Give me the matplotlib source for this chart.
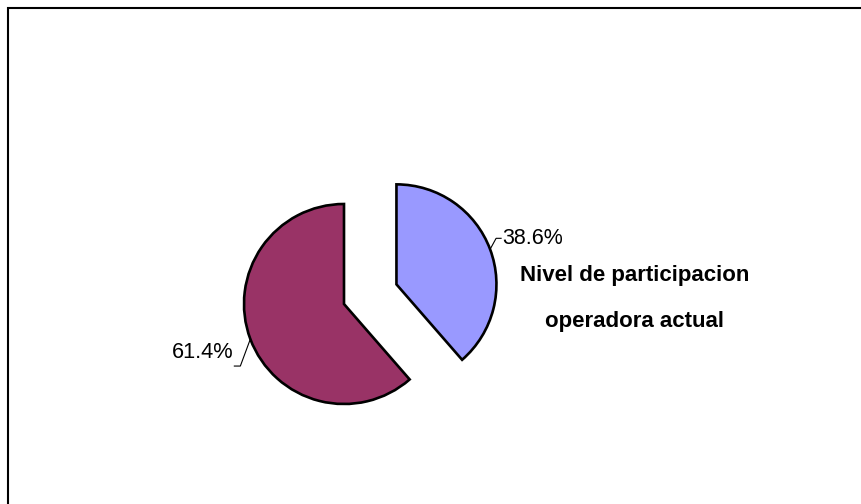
import numpy as np
import matplotlib
matplotlib.use('Agg')
from matplotlib import pyplot as plt
from matplotlib.patches import Rectangle

plt.rcParams['font.family'] = ['Liberation Sans', 'DejaVu Sans']

# data
labels = ['38.6%', '61.4%']
values = [38.6, 61.4]
colors = ['#9999FF', '#993366']
title_lines = ['Nivel de participacion', 'operadora actual']

W, H = 862, 504
fig = plt.figure(figsize=(W / 100, H / 100), dpi=100)
ax = fig.add_axes([0, 0, 1, 1])

# pie geometry in pixel units (y up)
cx, cy, r = 344, H - 304, 100
expl = [56, 0]
wedges, _ = ax.pie(values, colors=colors, startangle=90, counterclock=False,
                   radius=r, center=(cx, cy), explode=expl,
                   wedgeprops=dict(edgecolor='black', linewidth=1.9))

ax.set_xlim(0, W)
ax.set_ylim(0, H)
ax.set_aspect('equal')
ax.axis('off')

# leader lines + labels from each wedge's middle angle
for w, lab in zip(wedges, labels):
    tm = np.deg2rad((w.theta1 + w.theta2) / 2)
    x0 = w.center[0] + r * np.cos(tm)
    y0 = w.center[1] + r * np.sin(tm)
    if np.cos(tm) > 0:
        ex, ey = x0 + 6, y0 + 11
        ax.plot([x0, ex, ex + 5], [y0, ey, ey], color='black', lw=0.8)
        ax.text(ex + 6, ey, lab, fontsize=15.5, ha='left', va='center')
    else:
        ex, ey = x0 - 10, y0 - 27
        ax.plot([x0, ex, ex - 6], [y0, ey, ey], color='black', lw=0.8)
        ax.text(ex - 7, ey + 14, lab, fontsize=15.7, ha='right', va='center')

ax.text(635, H - 275, title_lines[0], fontsize=16, fontweight='bold',
        ha='center', va='center')
ax.text(635, H - 321, title_lines[1], fontsize=16, fontweight='bold',
        ha='center', va='center')

# border (only top/left visible in the crop)
ax.add_patch(Rectangle((8, -50), 1000, H - 8 + 50, fill=False,
                       edgecolor='black', linewidth=1.5, clip_on=False))

fig.savefig('out.png', dpi=100)
